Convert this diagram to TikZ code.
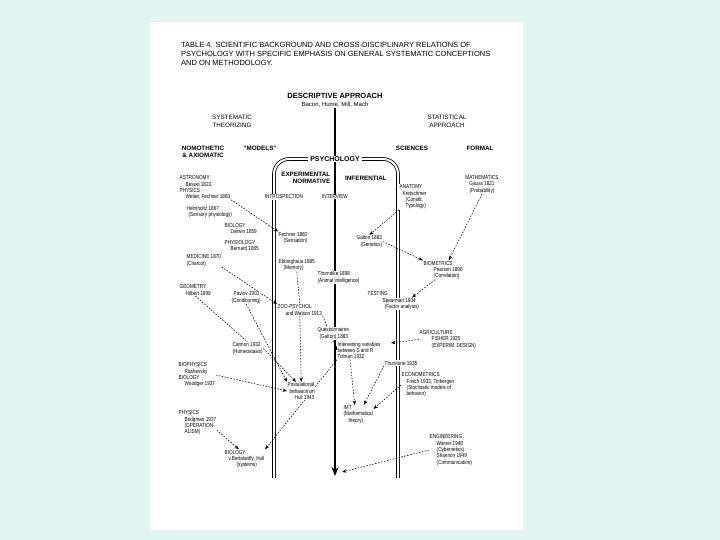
\documentclass[tikz,border=0pt]{standalone}
\usepackage{fontspec}
\setmainfont{Liberation Sans}
\newfontfamily\narrowfont{Liberation Sans}[FakeStretch=0.8]
\usetikzlibrary{arrows.meta}
\pgfdeclarelayer{back}
\pgfdeclarelayer{bg}
\pgfsetlayers{back,bg,main}
\definecolor{pagebg}{RGB}{224,245,240}
\newcommand{\myind}{\hspace*{6pt}}
\begin{document}
\begin{tikzpicture}[x=1pt,y=-1pt,
  lbl/.style={font=\narrowfont\fontsize{5.8}{6.3}\selectfont, inner sep=0.5pt, fill=white, align=left, anchor=west},
  hdr/.style={font=\bfseries\fontsize{6.3}{7.6}\selectfont, inner sep=0.6pt, fill=white, align=center},
  sub/.style={font=\fontsize{6.3}{8}\selectfont, inner sep=0.6pt, align=center},
  ttl/.style={font=\fontsize{7.5}{9}\selectfont, inner sep=0pt, anchor=west},
  link/.style={dash pattern=on 1.6pt off 1.4pt, line width=0.55pt},
  tip/.style={link, -{Stealth[length=4.5pt,width=3.4pt]}},
  boxline/.style={line width=0.8pt, double, double distance=2pt, rounded corners=15pt},
]
\begin{pgfonlayer}{back}
\fill[pagebg] (0,0) rectangle (720,540);
\fill[white] (150,22) rectangle (523,530);
\end{pgfonlayer}
\useasboundingbox (0,0) rectangle (720,540);

% title
\node[ttl] (t1) at (181,45) {TABLE 4. SCIENTIFIC BACKGROUND AND CROSS-DISCIPLINARY RELATIONS OF};
\node[ttl] (t2) at (181,54) {PSYCHOLOGY WITH SPECIFIC EMPHASIS ON GENERAL SYSTEMATIC CONCEPTIONS};
\node[ttl] (t3) at (181,63) {AND ON METHODOLOGY.};

% headers
\node[hdr, font=\bfseries\fontsize{7.5}{9}\selectfont] (desc) at (335,96) {DESCRIPTIVE APPROACH};
\node[sub, font=\fontsize{6}{7}\selectfont, fill=white] (bacon) at (335,105) {Bacon, Hume, Mill, Mach};
\node[sub] (systh) at (232,121) {SYSTEMATIC\\THEORIZING};
\node[sub] (stat) at (447,121) {STATISTICAL\\APPROACH};
\node[hdr] (nomo) at (203,152) {NOMOTHETIC\\\& AXIOMATIC};
\node[hdr] (models) at (260,148) {"MODELS"};
\node[hdr] (sci) at (412,148) {SCIENCES};
\node[hdr] (formal) at (480,148) {FORMAL};
\node[hdr, font=\bfseries\fontsize{7}{8}\selectfont, inner xsep=2pt] (psy) at (335,159) {PSYCHOLOGY};
\node[hdr, align=right, anchor=east, fill=none] (exper) at (331,178) {EXPERIMENTAL\\NORMATIVE};
\node[hdr, fill=none] (infer) at (366,178) {INFERENTIAL};
\node[lbl, anchor=center] (intro) at (284,197) {INTROSPECTION};
\node[lbl, anchor=center] (interv) at (335,197) {INTERVIEW};

% left side
\node[lbl] (astro) at (179,181) {ASTRONOMY\\\myind Bessel 1823};
\node[lbl] (phys1) at (179,193.5) {PHYSICS\\\myind Weber, Fechner 1860};
\node[lbl] (helm) at (186,212) {Helmholtz 1867\\\hspace*{2pt}(Sensory physiology)};
\node[lbl] (bio1) at (224,228.5) {BIOLOGY\\\myind Darwin 1859};
\node[lbl] (physio) at (224,245.5) {PHYSIOLOGY\\\myind Bernard 1865};
\node[lbl] (med) at (186,260.5) {MEDICINE 1870\\(Charcot)};
\node[lbl] (geom) at (179,290) {GEOMETRY\\\myind Hilbert 1899};
\node[lbl] (pavlov) at (231,297.5) {\hspace*{2pt}Pavlov 1903\\(Conditioning)};
\node[lbl] (cannon) at (232,348.5) {Cannon 1932\\(Homeostasis)};
\node[lbl] (biophys) at (178,375) {BIOPHYSICS\\\myind Rashevsky\\BIOLOGY\\\myind Woodger 1937};
\node[lbl] (phys2) at (178,423) {PHYSICS\\\myind Bridgman 1927\\\myind (OPERATION-\\\myind ALISM)};
\node[lbl] (bio2) at (224,459) {BIOLOGY\\\hspace*{4pt}v.Bertalanffy, Hull\\\hspace*{12pt}(systems)};

% inside
\node[lbl] (fechner) at (278,238) {Fechner 1860\\\hspace*{5pt}(Sensation)};
\node[lbl] (ebb) at (278,265) {Ebbinghaus 1885\\\hspace*{5pt}(Memory)};
\node[lbl] (thorn) at (317,277.5) {Thorndike 1898\\(Animal intelligence)};
\node[lbl] (zoo) at (277,310) {ZOO-PSYCHOL.\\\hspace*{8pt}and Watson 1913};
\node[lbl] (quest) at (317,333.5) {Questionnaires\\\hspace*{2pt}(Galton) 1883};
\node[lbl] (tolman) at (337,350.5) {Intervening variables\\between S and R\\Tolman 1932};
\node[lbl] (hull) at (287,391) {Postulational\\\hspace*{2pt}behaviorism\\\hspace*{7pt}Hull 1943};
\node[lbl] (imt) at (343,414.5) {IMT\\(Mathematical\\\hspace*{5pt}theory)};

% right side
\node[lbl] (galton) at (356,241.5) {Galton 1883\\\hspace*{4pt}(Genetics)};
\node[lbl] (anat) at (399,197) {ANATOMY\\\hspace*{3pt}Kretschmer\\\hspace*{6pt}(Constit.\\\hspace*{6pt}Typology)};
\node[lbl, align=center, anchor=center] (math) at (482,184.5) {MATHEMATICS\\Gauss 1821\\(Probability)};
\node[lbl] (biom) at (423,270) {BIOMETRICS\\\hspace*{10pt}Pearson 1896\\\hspace*{10pt}(Correlation)};
\node[lbl] (testing) at (367,294) {TESTING};
\node[lbl] (spear) at (382,304) {Spearman 1904\\\hspace*{2pt}(Factor analysis)};
\node[lbl] (agri) at (419,339.5) {AGRICULTURE\\\hspace*{12pt}FISHER 1925\\\hspace*{12pt}(EXPERIM. DESIGN)};
\node[lbl] (thur) at (384,363) {Thurstone 1935};
\node[lbl] (econ) at (401,385) {ECONOMETRICS\\\hspace*{5pt}Frisch 1933, Tinbergen\\\hspace*{5pt}(Stochastic models of\\\hspace*{5pt}behavior)};
\node[lbl] (eng) at (429,450) {ENGINEERING\\\hspace*{7pt}Wiener 1948\\\hspace*{7pt}(Cybernetics)\\\hspace*{7pt}Shannon 1949\\\hspace*{7pt}(Communication)};

\coordinate (mainend) at (335,476);
\coordinate (agrin) at (391,343);
\coordinate (engin) at (342,472);

\begin{pgfonlayer}{bg}
% structure
\draw[boxline] (274,478) -- (274,159) -- (398,159) -- (398,478);
\draw[line width=1.8pt, -{Stealth[length=9pt,width=7pt]}] (bacon.south) -- (mainend);
% connectors
\draw[tip] (phys1.south east) -- (fechner.north west);
\draw[tip] (med.south east) -- (zoo.north west);
\draw[link] (geom.south) -- (cannon.north);
\draw[tip] (pavlov.south) -- (hull.north west);
\draw[tip] (cannon.east) -- (hull.120);
\draw[link] (ebb.south) -- (zoo.north);
\draw[tip] (zoo.south) -- (hull.north);
\draw[tip] (biophys.east) -- (hull.west);
\draw[tip] (phys2.-20) -- (bio2.120);
\draw[tip] (tolman.south west) -- (bio2.north east);
\draw[tip] (anat.south west) -- (galton.north);
\draw[tip] (galton.east) -- (biom.north west);
\draw[tip] (math.south) -- (biom.60);
\draw[tip] (biom.230) -- (spear.30);
\draw[tip] (zoo.south east) -- (tolman.west);
\draw[tip] (agri.west) -- (agrin);
\draw[tip] (tolman.225) -- (imt.110);
\draw[tip] (thur.south west) -- (imt.60);
\draw[tip] (econ.west) -- (imt.20);
\draw[tip] (eng.west) -- (engin);
\end{pgfonlayer}
\end{tikzpicture}
\end{document}
